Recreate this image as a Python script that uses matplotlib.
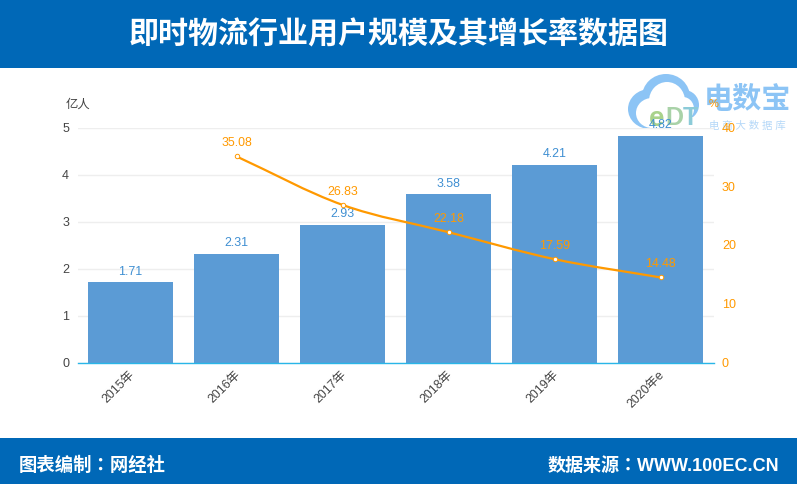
import numpy as np
import matplotlib
matplotlib.use('Agg')
import matplotlib.pyplot as plt
from matplotlib.patches import Rectangle, Ellipse, PathPatch
from matplotlib.path import Path
from matplotlib.transforms import ScaledTranslation

plt.rcParams['font.family'] = ['Liberation Sans', 'Noto Sans CJK SC', 'DejaVu Sans']

categories = ['2015年', '2016年', '2017年', '2018年', '2019年', '2020年e']
users = [1.71, 2.31, 2.93, 3.58, 4.21, 4.82]
growth_x = [1, 2, 3, 4, 5]
growth = [35.08, 26.83, 22.18, 17.59, 14.48]
left_ticks = [0, 1, 2, 3, 4, 5]
right_ticks = [0, 10, 20, 30, 40]
title = '即时物流行业用户规模及其增长率数据图'
footer_left = '图表编制：网经社'
footer_right = '数据来源：WWW.100EC.CN'

W, H = 797, 485
BLUE = '#0068B7'
BAR = '#5B9BD5'
ORANGE = '#FF9900'
LBL = '#3F8FD2'
GREY = '#444444'

fig = plt.figure(figsize=(W / 100, H / 100), dpi=100, facecolor='white')

def fx(p): return p / W
def fy(p): return 1 - p / H

FOOT = ['Liberation Sans', 'Noto Sans CJK TC']
fig.add_artist(Rectangle((0, fy(68.5)), 1, 68.5 / H, transform=fig.transFigure, color=BLUE, lw=0))
fig.add_artist(Rectangle((0, 0), 1, 46.5 / H, transform=fig.transFigure, color=BLUE, lw=0))
fig.text(fx(399), fy(35), title, color='white', fontsize=21.6, fontweight='bold', ha='center', va='center')
fig.text(fx(19), fy(466), footer_left, color='white', fontsize=13.2, fontweight='bold', ha='left', va='center', family=FOOT)
fig.text(fx(779), fy(466), footer_right, color='white', fontsize=13, fontweight='bold', ha='right', va='center', family=FOOT)

# watermark logo, below the chart
CLOUD = '#8CC4F5'
logo = fig.add_axes([0, 0, 1, 1], zorder=0)
logo.set_xlim(0, W)
logo.set_ylim(H, 0)
logo.axis('off')
logo.patch.set_alpha(0)
for cx, cy, w, h in [(666, 98, 48, 46), (650, 110, 44, 40), (684, 106, 30, 30)]:
    logo.add_patch(Ellipse((cx, cy), w, h, fc=CLOUD, ec='none'))
for cx, cy, w, h in [(667, 102, 36, 38), (652, 114, 32, 30), (683, 110, 22, 24)]:
    logo.add_patch(Ellipse((cx, cy), w, h, fc='white', ec='none'))
logo.add_patch(Rectangle((650, 118), 50, 14, fc='white', ec='none'))
logo.text(657, 119, 'e', color='#A9D28C', fontsize=20, fontweight='bold', ha='center', va='center')
logo.text(674, 118, 'D', color='#A9D2A8', fontsize=18, fontweight='bold', ha='center', va='center')
logo.text(690, 118, 'T', color='#8CCBD8', fontsize=18, fontweight='bold', ha='center', va='center')
logo.text(747, 100, '电数宝', color=CLOUD, fontsize=21, fontweight='bold', ha='center', va='center')
logo.text(747, 126, '电 商 大 数 据 库', color='#B5D8F8', fontsize=7.5, ha='center', va='center')

ax = fig.add_axes([fx(77.5), fy(363.5), (714 - 78) / W, (363 - 128) / H], zorder=1)
ax.set_xlim(-0.5, 5.5)
ax.set_ylim(0, 5)
ax.patch.set_alpha(0)
ax.set_axisbelow(True)
ax.yaxis.grid(True, color='#EEEEEE', lw=1)
x = np.arange(len(categories))
ax.bar(x, users, width=0.8, color=BAR, zorder=2)
for xi, v in zip(x, users):
    ax.annotate(f'{v:.2f}', (xi, v), xytext=(0, 4), textcoords='offset points',
                ha='center', va='bottom', color=LBL, fontsize=8.9, zorder=6)
for s in ['top', 'left', 'right']:
    ax.spines[s].set_visible(False)
ax.spines['bottom'].set_color('#29B6E8')
ax.spines['bottom'].set_linewidth(1)
ax.set_xticks(x)
ax.set_xticklabels(categories, rotation=45, ha='right', rotation_mode='anchor', fontsize=8.9, color=GREY)
ax.tick_params(axis='x', length=0, pad=4)
ax.set_yticks(left_ticks)
ax.tick_params(axis='y', length=0, pad=6, labelsize=9, labelcolor=GREY)
left_shift = ScaledTranslation(-2 / 100, 0, fig.dpi_scale_trans)
for lab in ax.get_xticklabels():
    lab.set_transform(lab.get_transform() + left_shift)
up_shift = ScaledTranslation(0, 1 / 100, fig.dpi_scale_trans)
for lab in ax.get_yticklabels():
    lab.set_transform(lab.get_transform() + up_shift)
fig.text(fx(78), fy(105), '亿人', color=GREY, fontsize=8.9, ha='center', va='center')

ax2 = ax.twinx()
ax2.set_zorder(2)
ax2.set_ylim(0, 40)
ax2.set_yticks(right_ticks)
ax2.tick_params(axis='y', length=0, pad=6, labelsize=9, labelcolor=ORANGE)
for lab in ax2.get_yticklabels():
    lab.set_transform(lab.get_transform() + up_shift)
for s in ax2.spines.values():
    s.set_visible(False)

# smooth line through the data points
gx = np.array(growth_x, float)
gy = np.array(growth, float)
tan = np.gradient(gy, gx)
verts = [(gx[0], gy[0])]
codes = [Path.MOVETO]
for i in range(len(gx) - 1):
    h = gx[i + 1] - gx[i]
    verts += [(gx[i] + h / 3, gy[i] + tan[i] * h / 3),
              (gx[i + 1] - h / 3, gy[i + 1] - tan[i + 1] * h / 3),
              (gx[i + 1], gy[i + 1])]
    codes += [Path.CURVE4] * 3
ax2.add_patch(PathPatch(Path(verts, codes), fc='none', ec=ORANGE, lw=1.6, zorder=4))
ax2.plot(gx, gy, ls='none', marker='o', ms=3.2, mfc='white', mec=ORANGE, mew=0.7, zorder=5)
for xi, v in zip(gx, gy):
    ax2.annotate(f'{v:.2f}', (xi, v), xytext=(0, 6), textcoords='offset points',
                 ha='center', va='bottom', color=ORANGE, fontsize=8.9, zorder=6)
fig.text(fx(714), fy(104), '%', color=ORANGE, fontsize=8, ha='center', va='center', zorder=8)

fig.savefig('out.png', dpi=100)
